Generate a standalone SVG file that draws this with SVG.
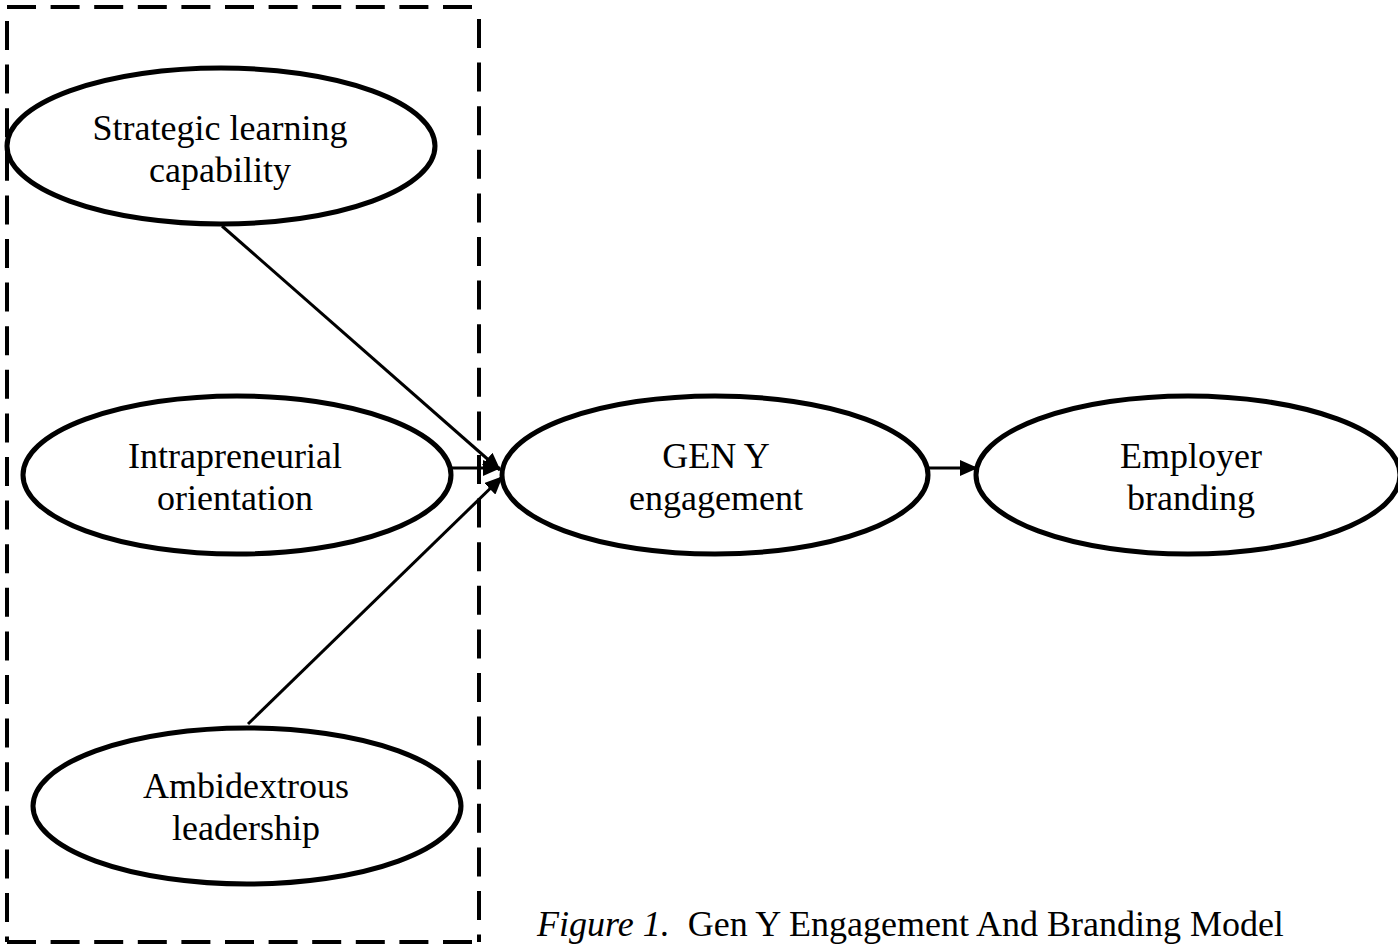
<svg xmlns="http://www.w3.org/2000/svg" width="1398" height="944" viewBox="0 0 1398 944">
  <defs>
    <style>
      .node ellipse { fill: #ffffff; stroke: #000000; stroke-width: 5; }
      .label { font-family: "Liberation Serif", "Times New Roman", serif; font-size: 36px; fill: #000000; text-anchor: middle; }
      .edge { stroke: #000000; stroke-width: 3; fill: none; marker-end: url(#arrow); }
      .frame { stroke: #000000; stroke-width: 4; stroke-dasharray: 29 14.6; fill: none; }
      .caption { font-family: "Liberation Serif", "Times New Roman", serif; font-size: 36px; fill: #000000; }
    </style>
    <marker id="arrow" markerUnits="userSpaceOnUse" markerWidth="18" markerHeight="16" viewBox="0 0 18 16" refX="17" refY="8" orient="auto">
      <path d="M0,0 L18,8 L0,16 Z" fill="#000000"/>
    </marker>
  </defs>

  <rect width="1398" height="944" fill="#ffffff"/>

  <!-- dashed grouping frame around the three antecedents -->
  <g id="frame">
    <line class="frame" x1="7" y1="7" x2="481" y2="7"/>
    <line class="frame" x1="7" y1="21" x2="7" y2="942"/>
    <line class="frame" x1="479" y1="19" x2="479" y2="942"/>
    <line class="frame" x1="7" y1="942" x2="481" y2="942"/>
  </g>

  <!-- connectors -->
  <g id="connectors">
    <line class="edge" x1="222" y1="226" x2="500" y2="470"/>
    <line class="edge" x1="452" y1="468" x2="500" y2="468"/>
    <line class="edge" x1="248" y1="724" x2="502" y2="477"/>
    <line class="edge" x1="928" y1="468" x2="977" y2="468"/>
  </g>

  <g id="node-strategic-learning" class="node">
    <ellipse cx="221" cy="146" rx="214" ry="78"/>
    <text class="label" x="220" y="140">Strategic learning</text>
    <text class="label" x="220" y="182">capability</text>
  </g>

  <g id="node-intrapreneurial" class="node">
    <ellipse cx="237" cy="475" rx="214" ry="79"/>
    <text class="label" x="235" y="468">Intrapreneurial</text>
    <text class="label" x="235" y="510">orientation</text>
  </g>

  <g id="node-ambidextrous" class="node">
    <ellipse cx="247" cy="806" rx="214" ry="78"/>
    <text class="label" x="246" y="798">Ambidextrous</text>
    <text class="label" x="246" y="840">leadership</text>
  </g>

  <g id="node-geny" class="node">
    <ellipse cx="715" cy="475" rx="213" ry="79"/>
    <text class="label" x="716" y="468">GEN Y</text>
    <text class="label" x="716" y="510">engagement</text>
  </g>

  <g id="node-employer" class="node">
    <ellipse cx="1188" cy="475" rx="212" ry="79"/>
    <text class="label" x="1191" y="468">Employer</text>
    <text class="label" x="1191" y="510">branding</text>
  </g>

  <g id="caption">
    <text class="caption" x="537" y="936"><tspan font-style="italic">Figure 1.</tspan><tspan dx="18">Gen Y Engagement And Branding Model</tspan></text>
  </g>
</svg>
